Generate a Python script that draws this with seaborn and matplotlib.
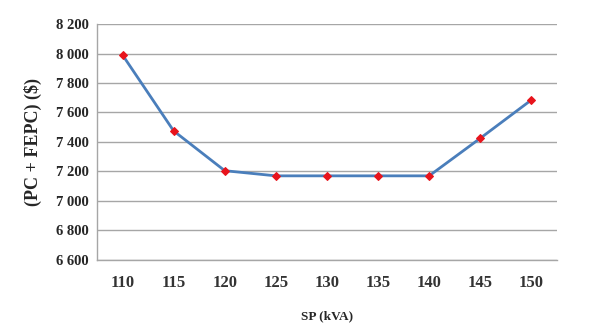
import matplotlib
matplotlib.use("Agg")
import matplotlib.pyplot as plt
import seaborn as sns
import pandas as pd

sp_kva = [110, 115, 120, 125, 130, 135, 140, 145, 150]
cost = [7990, 7475, 7205, 7170, 7170, 7170, 7170, 7425, 7685]
y_ticks = [6600, 6800, 7000, 7200, 7400, 7600, 7800, 8000, 8200]

df = pd.DataFrame({"SP": sp_kva, "cost": cost})

sns.set_style("white")
plt.rcParams["font.family"] = ["Liberation Serif", "DejaVu Serif"]

fig = plt.figure(figsize=(5.95, 3.34), dpi=100)
ax = fig.add_axes([0.163, 0.222, 0.773, 0.706])

sns.lineplot(data=df, x="SP", y="cost", ax=ax, color="#4a7ebb", linewidth=2,
             marker="D", markersize=4.5, markerfacecolor="#e8141c",
             markeredgecolor="#e8141c", zorder=3)

ax.set_xlim(107.5, 152.5)
ax.set_ylim(6600, 8200)
ax.set_xticks(sp_kva)
ax.set_yticks(y_ticks)
ax.set_yticklabels([f"{v:,}".replace(",", " ") for v in y_ticks])
ax.yaxis.grid(True, color="#a6a6a6", linewidth=1)
ax.set_axisbelow(True)

for s in ["top", "right"]:
    ax.spines[s].set_visible(False)
for s in ["left", "bottom"]:
    ax.spines[s].set_color("#a6a6a6")
    ax.spines[s].set_linewidth(1)

ax.tick_params(axis="y", length=4, color="#a6a6a6", width=1, pad=2, labelsize=10.5)
ax.tick_params(axis="x", length=0, pad=11, labelsize=12, labelcolor="#333333")
for lab in ax.get_xticklabels() + ax.get_yticklabels():
    lab.set_fontweight("bold")

ax.set_xlabel("SP (kVA)", fontsize=9.5, fontweight="bold", labelpad=14)
ax.set_ylabel("(PC + FEPC) ($)", fontsize=13, fontweight="bold", labelpad=10)

fig.savefig("out.png", dpi=100)
